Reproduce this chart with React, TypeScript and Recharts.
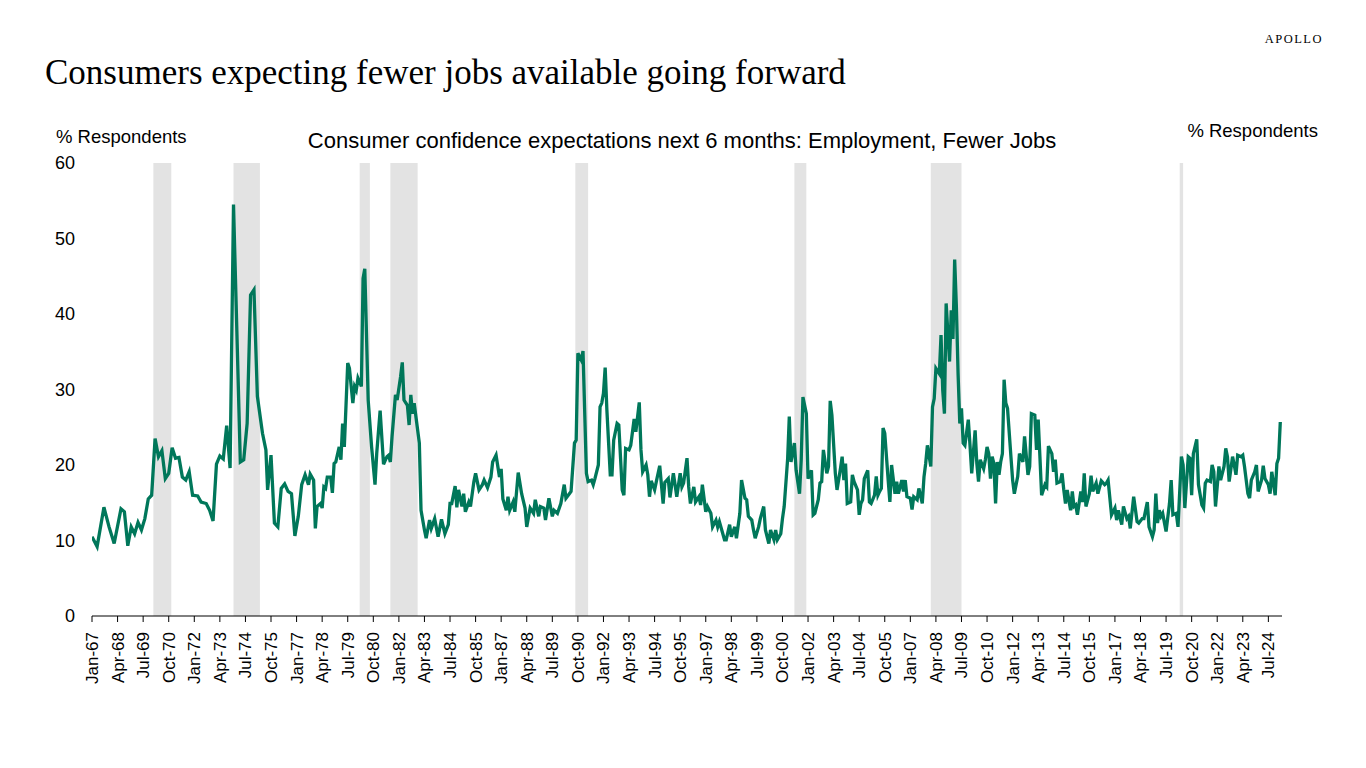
import { LineChart, Line, XAxis, YAxis, ReferenceArea } from 'recharts'

const SANS = '"Liberation Sans", Arial, sans-serif'
const SERIF = '"Liberation Serif", "Times New Roman", serif'
const GREEN = '#00775a'

// [month index from Jan-67, % respondents expecting fewer jobs]
// survey was bimonthly until the late 70s
const s1967 = [
  [0, 10.5], [3, 9.2], [7, 14.4], [10, 11.8], [13, 9.6], [17, 14.2], [19, 13.8], [21, 9.3], [23, 11.8],
  [25, 10.9], [27, 12.4], [29, 11.4], [31, 12.9], [33, 15.5], [35, 16.0], [37, 23.5], [39, 21.1], [41, 21.9],
  [43, 18.2], [45, 18.9], [47, 22.3], [49, 20.9], [51, 21.0], [53, 18.4], [55, 18.0], [57, 19.1], [59, 16.0],
  [62, 15.9], [64, 15.1], [67, 14.9], [69, 14.0], [71, 12.6], [73, 20.1], [75, 21.2], [77, 20.8], [79, 25.2],
  [81, 19.6], [83, 54.5], [87, 20.4], [89, 20.7], [91, 25.5], [93, 42.5], [95, 43.2], [97, 29.1], [100, 24.2],
  [102, 22.0], [103, 16.7], [105, 21.3], [107, 12.3], [109, 11.8], [111, 16.9], [113, 17.5], [115, 16.5],
  [117, 16.2], [119, 10.6],
]

const s1977 = [
  [121, 13.2], [123, 17.4], [125, 18.7], [127, 17.4], [128, 18.8], [130, 18.0], [131, 11.6], [132, 14.5],
  [134, 14.9], [135, 14.3], [136, 17.1], [137, 16.9], [138, 18.4], [140, 18.4], [141, 16.3], [142, 20.2],
  [143, 20.4], [145, 22.4], [146, 20.7], [147, 25.5], [148, 22.4], [150, 33.5], [151, 32.8], [153, 28.2],
  [154, 30.4], [155, 29.9], [156, 31.5], [158, 30.4], [159, 44.7], [160, 46.0], [162, 28.6], [164, 22.4],
  [166, 17.4], [167, 21.5], [169, 27.2], [171, 20.1], [173, 21.1], [174, 21.3], [175, 20.4], [176, 23.8],
  [178, 29.3], [179, 28.6], [181, 31.7], [182, 33.6], [183, 28.6], [185, 27.9], [186, 25.3], [187, 29.3],
  [188, 26.8], [189, 28.2], [190, 26.4], [192, 22.9], [193, 14.0], [195, 11.4], [196, 10.3], [198, 12.7],
  [199, 11.6], [201, 12.9], [203, 10.5], [205, 12.8], [207, 10.9], [209, 12.1], [210, 14.9], [211, 14.9],
  [213, 17.2], [214, 14.4], [215, 16.7], [217, 14.5], [218, 16.2], [219, 13.8], [221, 15.1], [222, 14.5],
  [224, 17.8], [225, 18.9], [227, 16.7], [229, 17.4], [230, 18.0], [232, 17.0], [234, 18.4], [235, 20.4],
  [237, 21.3], [239, 18.4],
]

const s1987 = [
  [240, 19.5], [241, 15.5], [243, 14.0], [244, 15.8], [245, 14.0], [247, 15.1], [248, 13.8], [250, 19.0],
  [252, 16.2], [254, 14.3], [255, 11.8], [257, 14.3], [259, 13.6], [260, 15.4], [262, 13.2], [263, 14.5],
  [265, 14.3], [266, 12.7], [268, 15.6], [270, 13.2], [271, 14.0], [273, 13.6], [275, 14.9], [277, 17.4],
  [278, 15.6], [280, 16.2], [281, 16.5], [283, 22.9], [284, 23.3], [285, 34.8], [287, 33.9], [288, 35.1],
  [290, 18.9], [291, 17.8], [293, 18.0], [294, 17.4], [295, 18.2], [297, 20.0], [298, 27.7], [299, 28.2],
  [300, 29.5], [301, 32.9], [302, 27.3], [304, 18.7], [305, 18.7], [306, 23.3], [308, 25.5], [309, 25.3],
  [311, 16.7], [312, 16.0], [313, 22.2], [315, 22.0], [316, 22.6], [318, 26.1], [319, 24.4], [321, 28.3],
  [322, 22.0], [323, 19.1], [325, 20.0], [326, 18.7], [327, 15.8], [328, 17.9], [330, 16.7], [331, 17.8],
  [333, 19.9], [335, 14.9], [336, 17.7], [338, 18.2], [339, 15.7], [341, 18.9], [342, 17.4], [343, 15.8],
  [345, 18.9], [346, 17.1], [347, 17.6], [349, 20.9], [350, 17.1], [351, 14.9], [353, 17.1], [354, 15.1],
  [356, 15.8], [357, 14.7], [358, 17.4],
]

const s1997 = [
  [360, 13.8], [361, 14.5], [363, 13.6], [364, 11.8], [366, 12.7], [367, 11.8], [368, 12.5], [370, 10.9],
  [371, 10.1], [372, 10.1], [374, 12.1], [375, 10.5], [377, 11.8], [378, 10.3], [380, 13.6], [381, 18.0],
  [383, 15.6], [384, 15.4], [385, 13.2], [387, 12.7], [388, 11.4], [389, 10.3], [391, 11.8], [392, 12.9],
  [394, 14.5], [395, 11.4], [397, 9.6], [398, 11.4], [400, 10.1], [401, 11.4], [402, 10.1], [404, 10.9],
  [405, 12.9], [406, 14.5], [408, 20.7], [409, 26.4], [410, 20.4], [412, 22.9], [413, 19.3], [415, 16.2],
  [416, 20.7], [417, 29.0], [419, 26.8], [420, 18.2], [422, 19.3], [423, 13.4], [424, 13.6], [426, 15.4],
  [427, 17.6], [428, 17.8], [429, 22.0], [431, 18.9], [432, 19.8], [433, 28.5], [434, 26.6], [436, 18.9],
  [437, 16.7], [439, 19.5], [440, 21.1], [441, 18.0], [442, 20.2], [443, 14.9], [445, 15.1], [446, 18.7],
  [447, 17.8], [449, 16.7], [450, 13.4], [451, 14.9], [452, 15.4], [453, 18.2], [455, 19.3], [456, 15.1],
  [457, 14.9], [459, 16.0], [460, 18.5], [461, 16.0], [462, 16.5], [463, 16.9], [464, 24.9], [465, 24.2],
  [467, 18.0], [468, 15.1], [469, 20.0], [471, 16.2], [472, 17.8], [473, 16.2], [475, 18.0], [476, 16.5],
  [477, 18.0], [478, 15.8],
]

const s2007 = [
  [480, 15.6], [481, 14.1], [482, 15.8], [484, 15.4], [485, 16.9], [487, 14.9], [488, 18.4], [489, 20.2],
  [490, 22.6], [492, 19.8], [493, 27.7], [494, 28.8], [495, 32.8], [497, 32.1], [498, 37.2], [499, 29.9],
  [500, 26.8], [501, 41.4], [503, 33.7], [504, 40.5], [505, 36.7], [506, 47.2], [507, 41.0], [508, 32.1],
  [509, 25.5], [510, 27.5], [511, 22.9], [512, 22.6], [514, 26.0], [515, 22.6], [516, 18.9], [518, 24.6],
  [519, 20.2], [520, 17.8], [521, 20.7], [523, 19.5], [524, 20.7], [525, 22.4], [526, 21.5], [527, 18.2],
  [528, 21.1], [529, 20.2], [530, 14.9], [531, 20.4], [532, 18.7], [533, 20.4], [534, 21.5], [535, 31.3],
  [536, 28.2], [537, 27.5], [539, 21.1], [540, 18.0], [541, 16.2], [543, 18.5], [544, 21.5], [546, 20.4],
  [547, 23.8], [549, 18.7], [550, 19.8], [551, 26.8], [553, 26.6], [554, 22.0], [555, 26.0], [556, 21.1],
  [557, 16.0], [559, 17.4], [560, 17.1], [561, 22.5], [563, 21.5], [564, 19.1], [565, 20.7], [566, 17.6],
  [568, 17.8], [569, 18.9], [570, 16.7], [571, 14.9], [572, 16.7], [574, 14.0], [575, 16.5], [576, 14.5],
  [577, 14.7], [578, 13.4], [580, 16.5], [581, 15.1], [582, 18.9], [583, 14.5], [585, 16.2], [586, 18.6],
  [587, 16.5], [589, 17.6], [590, 16.2], [592, 17.9], [594, 17.4], [595, 17.6], [596, 18.0], [598, 13.4],
]

const s2017 = [
  [600, 14.3], [601, 12.7], [602, 14.0], [604, 12.1], [605, 14.5], [607, 12.9], [608, 13.2], [609, 11.6],
  [611, 15.8], [613, 12.5], [614, 12.3], [616, 12.9], [617, 12.9], [619, 15.1], [620, 11.8], [622, 10.5],
  [623, 11.4], [624, 16.2], [625, 12.3], [626, 14.0], [627, 13.2], [628, 13.6], [630, 11.2], [632, 14.9],
  [633, 18.0], [634, 13.4], [636, 13.6], [637, 11.8], [639, 21.1], [640, 20.0], [641, 14.3], [643, 21.1],
  [644, 20.9], [645, 16.0], [646, 21.5], [648, 23.4], [649, 17.4], [651, 14.7], [652, 14.3], [653, 17.6],
  [654, 18.0], [656, 17.8], [657, 20.0], [658, 19.1], [659, 14.5], [661, 19.8], [662, 18.0], [664, 19.8],
  [665, 22.2], [666, 21.1], [667, 17.8], [669, 21.1], [670, 20.0], [671, 18.7], [672, 21.3], [674, 21.1],
  [675, 21.3], [676, 19.8], [678, 16.2], [679, 15.6], [680, 18.0], [682, 19.1], [683, 20.0], [684, 16.5],
  [686, 18.0], [687, 19.9], [688, 18.2], [690, 17.4], [691, 16.2], [692, 19.1], [694, 16.0], [695, 20.2],
  [696, 20.9], [697, 25.7],
]

// NBER recessions, month index
const recessionStart = [36, 83, 157, 175, 283.5, 412, 492, 638]
const recessionEnd = [46.5, 98.5, 163, 191, 291, 419, 510, 640]

const xTickLabels = [
  'Jan-67', 'Apr-68', 'Jul-69', 'Oct-70', 'Jan-72', 'Apr-73', 'Jul-74', 'Oct-75', 'Jan-77', 'Apr-78',
  'Jul-79', 'Oct-80', 'Jan-82', 'Apr-83', 'Jul-84', 'Oct-85', 'Jan-87', 'Apr-88', 'Jul-89', 'Oct-90',
  'Jan-92', 'Apr-93', 'Jul-94', 'Oct-95', 'Jan-97', 'Apr-98', 'Jul-99', 'Oct-00', 'Jan-02', 'Apr-03',
  'Jul-04', 'Oct-05', 'Jan-07', 'Apr-08', 'Jul-09', 'Oct-10', 'Jan-12', 'Apr-13', 'Jul-14', 'Oct-15',
  'Jan-17', 'Apr-18', 'Jul-19', 'Oct-20', 'Jan-22', 'Apr-23', 'Jul-24',
]
const xTicks = xTickLabels.map((_, i) => i * 15)
const yTicks = [0, 10, 20, 30, 40, 50, 60]

const data = [...s1967, ...s1977, ...s1987, ...s1997, ...s2007, ...s2017].map(([m, v]) => ({ m, v }))

function MonthTick(props: any) {
  const { x, y, payload } = props
  const label = xTickLabels[Math.round(payload.value / 15)]
  return (
    <g transform={`translate(${x},${y})`}>
      <text
        transform="rotate(-90)"
        textAnchor="end"
        dy="0.35em"
        fill="#000"
        fontSize={17}
        fontFamily={SANS}
      >
        {label}
      </text>
    </g>
  )
}

export default function App() {
  return (
    <div style={{ position: 'fixed', left: 0, top: 0, width: 1366, height: 768, background: '#fff' }}>
      <LineChart
        width={1366}
        height={768}
        data={data}
        margin={{ top: 163, right: 24, bottom: 72, left: 32 }}
      >
        <XAxis
          dataKey="m"
          type="number"
          domain={[0, 698]}
          ticks={xTicks}
          interval={0}
          allowDataOverflow
          height={80}
          tickSize={6}
          tickMargin={10}
          axisLine={{ stroke: '#000' }}
          tickLine={{ stroke: '#000' }}
          tick={<MonthTick />}
        />
        <YAxis
          yAxisId="left"
          domain={[0, 60]}
          ticks={yTicks}
          width={60}
          axisLine={false}
          tickLine={false}
          tickSize={0}
          tickMargin={17}
          tick={{ fill: '#000', fontSize: 18, fontFamily: SANS }}
        />
        <YAxis
          yAxisId="right"
          orientation="right"
          domain={[0, 60]}
          ticks={yTicks}
          width={60}
          axisLine={false}
          tickLine={false}
          tickSize={0}
          tickMargin={15}
          tick={{ fill: '#000', fontSize: 18, fontFamily: SANS }}
        />
        {recessionStart.map((s, i) => (
          <ReferenceArea
            key={s}
            yAxisId="left"
            x1={s}
            x2={recessionEnd[i]}
            y1={0}
            y2={60}
            fill="#e3e3e3"
            fillOpacity={1}
            stroke="none"
          />
        ))}
        <Line
          yAxisId="left"
          type="linear"
          dataKey="v"
          stroke={GREEN}
          strokeWidth={3.3}
          dot={false}
          isAnimationActive={false}
        />
      </LineChart>
      <svg
        width={1366}
        height={768}
        style={{ position: 'absolute', left: 0, top: 0, pointerEvents: 'none' }}
      >
        <text x={45} y={84} fontFamily={SERIF} fontSize={35} fill="#000">
          Consumers expecting fewer jobs available going forward
        </text>
        <text x={1323} y={43} textAnchor="end" fontFamily={SERIF} fontSize={12.5} letterSpacing={1.5} fill="#000">
          APOLLO
        </text>
        <text x={56} y={143} fontFamily={SANS} fontSize={18.5} fill="#000">
          % Respondents
        </text>
        <text x={1318} y={137} textAnchor="end" fontFamily={SANS} fontSize={18.5} fill="#000">
          % Respondents
        </text>
        <text x={682} y={148} textAnchor="middle" fontFamily={SANS} fontSize={22} fill="#000">
          Consumer confidence expectations next 6 months: Employment, Fewer Jobs
        </text>
      </svg>
    </div>
  )
}
